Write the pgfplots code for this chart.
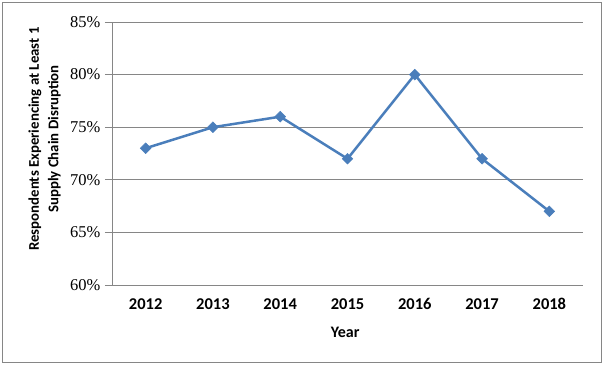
\documentclass[border=0pt]{standalone}
\usepackage{pgfplots}
\pgfplotsset{compat=1.18}
\usepackage{fontspec}
\setmainfont{Liberation Serif}
\newfontfamily\calfont{Carlito}
\definecolor{linecol}{HTML}{4A7EBB}
\definecolor{gridcol}{HTML}{868686}
\begin{document}
\begin{tikzpicture}
\useasboundingbox (-112pt,-80pt) rectangle (492pt,285pt);
\draw[gridcol, line width=1pt] (-109.5pt,-77pt) rectangle (489pt,282.5pt);
\begin{axis}[
  at={(0pt,0pt)}, anchor=south west,
  scale only axis, width=471pt, height=263pt,
  xmin=-0.5, xmax=6.5, ymin=60, ymax=85,
  axis lines=left, axis line style={gridcol, line width=0.8pt, -},
  xtick={0,...,6},
  xticklabels={2012,2013,2014,2015,2016,2017,2018},
  minor xtick={-0.5,0.5,...,6.5},
  ytick={60,65,...,85},
  yticklabels={60\%,65\%,70\%,75\%,80\%,85\%},
  ymajorgrids, grid style={gridcol, line width=0.8pt},
  major tick length=0pt,
  tick align=outside,
  x tick style={draw=none},
  minor x tick style={gridcol, line width=0.8pt},
  minor tick length=6pt,
  extra y ticks={60,65,...,85}, extra y tick labels={},
  extra y tick style={major tick length=7pt, tick style={gridcol, line width=0.8pt}, grid=none},
  xticklabel style={font=\calfont\bfseries\fontsize{16.5}{16.5}\selectfont, yshift=-10pt},
  yticklabel style={font=\fontsize{16.5}{16.5}\selectfont, xshift=-8pt},
  xlabel={Year},
  xlabel style={font=\calfont\bfseries\fontsize{16}{16}\selectfont, at={(axis description cs:0.495,-0.18)}, anchor=center},
  ylabel={Respondents Experiencing at Least 1\\Supply Chain Disruption},
  ylabel style={font=\calfont\bfseries\fontsize{14.8}{19.5}\selectfont, align=center, at={(axis description cs:-0.143,0.555)}, anchor=center},
  clip=false,
]
\addplot[linecol, line width=2.5pt, mark=square*, mark size=3.8pt, mark options={rotate=45, fill=linecol, draw=linecol, line width=0.5pt}]
  coordinates {(0,73) (1,75) (2,76) (3,72) (4,80) (5,72) (6,67)};
\end{axis}
\end{tikzpicture}
\end{document}
